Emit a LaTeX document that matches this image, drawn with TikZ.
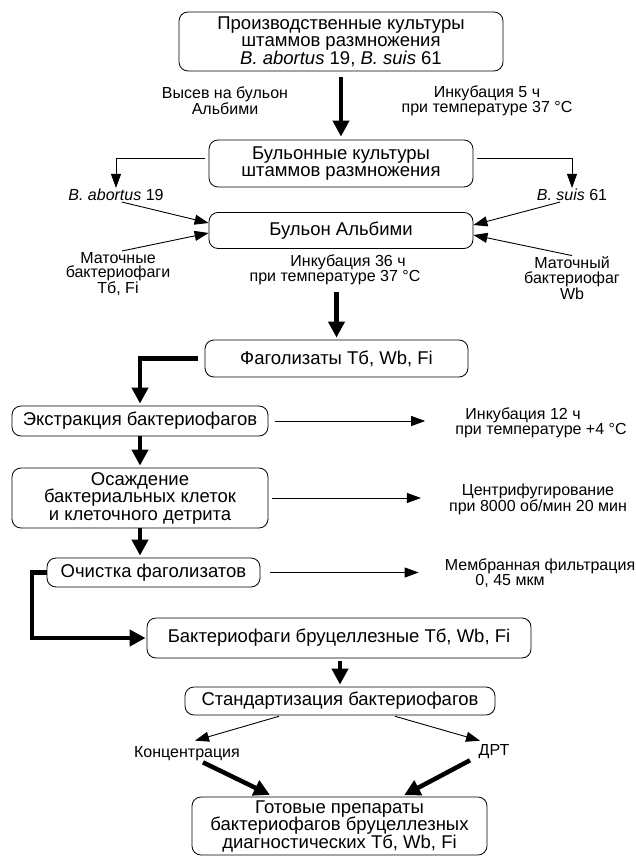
\documentclass[tikz,border=0pt]{standalone}
\usepackage{fontspec}
\setmainfont{Liberation Sans}
\usepackage{tikz}
\usetikzlibrary{arrows.meta,calc}

\begin{document}
\begin{tikzpicture}[
    x=1pt, y=-1pt,
    box/.style={draw, line width=0.8pt, rounded corners=9pt, align=center, inner sep=0pt, font=\fontsize{18.5}{17.5}\selectfont},
    lbl/.style={align=center, inner sep=1pt, font=\fontsize{16}{14.5}\selectfont},
    thinarr/.style={line width=0.9pt, -{Triangle[length=14pt,width=10pt]}},
    boldarr/.style={line width=4.5pt, -{Triangle[length=16pt,width=16pt]}}
]
\useasboundingbox (0,0) rectangle (636,858);

\node[box, minimum width=324, minimum height=59] (prod) at (341,41.5) {Производственные культуры\\штаммов размножения\\\textit{B. abortus} 19, \textit{B. suis} 61};
\node[box, minimum width=264, minimum height=47] (bulcult) at (341,163.5) {Бульонные культуры\\штаммов размножения};
\node[box, minimum width=264, minimum height=36] (albimi) at (341,230.5) {Бульон Альбими};
\node[box, minimum width=263, minimum height=37] (phagol) at (336.5,358.5) {Фаголизаты Тб, Wb, Fi};
\node[box, minimum width=256, minimum height=30] (extract) at (140,421) {Экстракция бактериофагов};
\node[box, minimum width=256, minimum height=60] (sediment) at (140,498) {Осаждение\\бактериальных клеток\\и клеточного детрита};
\node[box, minimum width=213, minimum height=29] (purify) at (153.5,572.5) {Очистка фаголизатов};
\node[box, minimum width=384, minimum height=40] (brucphage) at (339,638) {Бактериофаги бруцеллезные Тб, Wb, Fi};
\node[box, minimum width=310, minimum height=28] (stand) at (340,701) {Стандартизация бактериофагов};
\node[box, minimum width=295, minimum height=58] (final) at (339.5,826) {Готовые препараты\\бактериофагов бруцеллезных\\диагностических Тб, Wb, Fi};

\node[lbl] (sowing) at (225,101) {Высев на бульон\\Альбими};
\node[lbl] (incub5) at (487,101) {Инкубация 5 ч\\при температуре 37 °C};
\node[lbl] (abortus) at (116,195) {\textit{B. abortus} 19};
\node[lbl] (suis) at (572,195) {\textit{B. suis} 61};
\node[lbl] (motherL) at (118,274) {Маточные\\бактериофаги\\Тб, Fi};
\node[lbl] (motherR) at (572,278) {Маточный\\бактериофаг\\Wb};
\node[lbl] (incub36) at (335,270) {\hspace*{26pt}Инкубация 36 ч\\при температуре 37 °C};
\node[lbl] (incub12) at (541,423) {\hspace*{-36pt}Инкубация 12 ч\\при температуре +4 °C};
\node[lbl] (centrif) at (538,499) {Центрифугирование\\при 8000 об/мин 20 мин};
\node[lbl] (membr) at (540,573) {Мембранная фильтрация\\\hspace*{-60pt}0, 45 мкм};
\node[lbl] (conc) at (187,754) {Концентрация};
\node[lbl] (drt) at (494,752) {ДРТ};

\coordinate (elbow) at (32,638);

\draw[boldarr, shorten <=6pt, shorten >=3pt] (bulcult.north |- prod.south) -- (bulcult.north);
\draw[thinarr, shorten <=4pt] ([yshift=5pt]bulcult.west) -| (abortus.north);
\draw[thinarr, shorten <=4pt] ([yshift=5pt]bulcult.east) -| (suis.north);
\draw[thinarr] ([xshift=6pt]abortus.south) -- ([yshift=7.5pt]albimi.west);
\draw[thinarr] ([xshift=4pt]motherL.north) -- ([yshift=-2.5pt]albimi.west);
\draw[thinarr] ([xshift=-12pt]suis.south) -- ([yshift=5.5pt]albimi.east);
\draw[thinarr] (motherR.north) -- ([yshift=-4.5pt]albimi.east);
\draw[boldarr, shorten <=6pt, shorten >=2pt] (phagol.north |- incub36.south) -- (phagol.north);
\draw[boldarr, shorten <=7pt, shorten >=2pt] (phagol.west) -| (extract.north);
\draw[boldarr, shorten >=2pt] (extract.south) -- (sediment.north);
\draw[boldarr, shorten >=2pt] (sediment.south) -- (sediment.south |- purify.north);
\draw[boldarr, shorten >=1pt] (purify.west) -| (elbow) -- (brucphage.west);
\draw[boldarr, shorten <=3pt, shorten >=2pt] (brucphage.south -| stand.north) -- (stand.north);
\draw[thinarr, shorten >=29pt, shorten <=7pt] (extract.east) -- (extract.east -| incub12.west);
\draw[thinarr, shorten >=27pt, shorten <=4pt] (sediment.east) -- (sediment.east -| centrif.west);
\draw[thinarr, shorten >=25pt, shorten <=10pt] (purify.east) -- (purify.east -| membr.west);
\draw[thinarr, shorten <=3pt] ([xshift=-58pt]stand.south) -- ([xshift=8pt,yshift=5pt]conc.north);
\draw[thinarr, shorten <=3pt] ([xshift=52pt]stand.south) -- ([xshift=-14pt,yshift=3pt]drt.north);
\draw[boldarr, shorten >=4pt] ([xshift=16pt]conc.south) -- ([xshift=-66pt]final.north);
\draw[boldarr, shorten >=3pt] ([xshift=-24pt]drt.south) -- ([xshift=62pt]final.north);
\end{tikzpicture}
\end{document}
